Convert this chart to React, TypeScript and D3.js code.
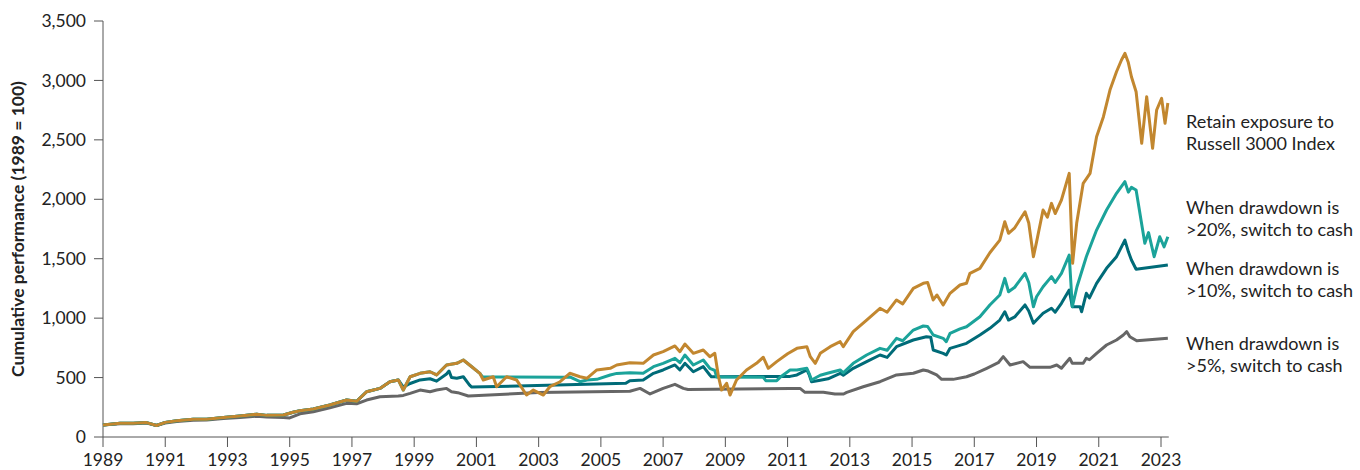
import React from 'react';
import * as d3 from 'd3';

// [year, index value]
const russell3000 = [
  [1989.0, 100], [1989.55, 115], [1989.97, 115], [1990.4, 121], [1990.72, 97], [1991.0, 123],
  [1991.37, 137], [1991.9, 149], [1992.33, 150], [1992.87, 165], [1993.4, 177], [1993.94, 191],
  [1994.26, 182], [1994.8, 185], [1995.11, 208], [1995.33, 221], [1995.76, 235], [1996.29, 269],
  [1996.83, 311], [1997.15, 300], [1997.47, 381], [1997.9, 409], [1998.22, 465], [1998.49, 480],
  [1998.65, 395], [1998.87, 507], [1999.19, 536], [1999.51, 549], [1999.72, 522], [2000.04, 606],
  [2000.37, 620], [2000.58, 648], [2000.85, 591], [2001.11, 536], [2001.22, 480], [2001.54, 507],
  [2001.65, 423], [2001.97, 507], [2002.29, 480], [2002.61, 353], [2002.83, 395], [2003.15, 353],
  [2003.36, 423], [2003.69, 465], [2004.0, 536], [2004.33, 507], [2004.55, 494], [2004.87, 564],
  [2005.3, 578], [2005.51, 606], [2005.93, 625], [2006.36, 620], [2006.69, 690], [2007.0, 718],
  [2007.38, 766], [2007.54, 718], [2007.7, 782], [2007.97, 704], [2008.29, 732], [2008.5, 676],
  [2008.66, 704], [2008.78, 507], [2008.88, 395], [2009.04, 452], [2009.15, 353], [2009.36, 480],
  [2009.68, 564], [2010.0, 620], [2010.22, 671], [2010.38, 578], [2010.65, 634], [2011.0, 700],
  [2011.3, 746], [2011.62, 760], [2011.73, 676], [2011.89, 620], [2012.05, 704], [2012.37, 760],
  [2012.69, 802], [2012.79, 760], [2013.11, 886], [2013.54, 984], [2013.97, 1083], [2014.2, 1050],
  [2014.5, 1153], [2014.7, 1120], [2015.04, 1251], [2015.36, 1293], [2015.5, 1300], [2015.68, 1153],
  [2015.8, 1195], [2016.0, 1110], [2016.22, 1209], [2016.54, 1279], [2016.75, 1293], [2016.86, 1377],
  [2017.18, 1419], [2017.5, 1550], [2017.82, 1657], [2017.98, 1811], [2018.1, 1714], [2018.3, 1760],
  [2018.63, 1895], [2018.75, 1800], [2018.9, 1517], [2019.0, 1640], [2019.21, 1910], [2019.35, 1850],
  [2019.48, 1966], [2019.6, 1880], [2019.8, 1994], [2020.05, 2218], [2020.16, 1461], [2020.29, 1798],
  [2020.5, 2134], [2020.72, 2218], [2020.93, 2526], [2021.15, 2695], [2021.36, 2919], [2021.57, 3073],
  [2021.73, 3172], [2021.84, 3228], [2021.95, 3150], [2022.05, 3031], [2022.2, 2905], [2022.38, 2471],
  [2022.54, 2863], [2022.73, 2429], [2022.86, 2751], [2023.02, 2849], [2023.13, 2639], [2023.22, 2810],
];

const drawdown20 = [
  [1989.0, 100], [1989.55, 115], [1989.97, 115], [1990.4, 121], [1990.72, 97], [1991.0, 123],
  [1991.37, 137], [1991.9, 149], [1992.33, 150], [1992.87, 165], [1993.4, 177], [1993.94, 191],
  [1994.26, 182], [1994.8, 185], [1995.11, 208], [1995.33, 221], [1995.76, 235], [1996.29, 269],
  [1996.83, 311], [1997.15, 300], [1997.47, 381], [1997.9, 409], [1998.22, 465], [1998.49, 480],
  [1998.65, 395], [1998.87, 507], [1999.19, 536], [1999.51, 549], [1999.72, 522], [2000.04, 606],
  [2000.37, 620], [2000.58, 648], [2000.85, 591], [2001.11, 536], [2001.2, 505], [2003.9, 502],
  [2004.0, 505], [2004.33, 465], [2004.55, 480], [2004.87, 485], [2005.3, 522], [2005.51, 535],
  [2005.93, 541], [2006.36, 536], [2006.69, 592], [2007.0, 620], [2007.38, 662], [2007.54, 625],
  [2007.7, 690], [2007.97, 606], [2008.29, 648], [2008.5, 578], [2008.66, 560], [2008.72, 505],
  [2010.22, 502], [2010.3, 474], [2010.65, 474], [2010.75, 500], [2011.08, 564], [2011.3, 564],
  [2011.62, 578], [2011.7, 530], [2011.77, 480], [2012.05, 520], [2012.28, 536], [2012.69, 564],
  [2012.79, 540], [2013.11, 620], [2013.54, 690], [2013.97, 746], [2014.2, 730], [2014.5, 830],
  [2014.7, 810], [2015.04, 900], [2015.36, 934], [2015.5, 930], [2015.68, 858], [2016.0, 830],
  [2016.1, 802], [2016.22, 872], [2016.54, 910], [2016.75, 928], [2017.18, 1012], [2017.5, 1110],
  [2017.82, 1195], [2017.98, 1335], [2018.1, 1222], [2018.3, 1260], [2018.63, 1377], [2018.75, 1300],
  [2018.9, 1096], [2019.0, 1180], [2019.21, 1264], [2019.48, 1349], [2019.6, 1300], [2019.8, 1377],
  [2020.05, 1531], [2020.15, 1096], [2020.3, 1264], [2020.6, 1517], [2020.93, 1741], [2021.25, 1910],
  [2021.57, 2050], [2021.84, 2148], [2021.95, 2060], [2022.05, 2100], [2022.2, 2078], [2022.48, 1630],
  [2022.6, 1720], [2022.78, 1517], [2022.96, 1685], [2023.1, 1600], [2023.22, 1685],
];

const drawdown10 = [
  [1989.0, 100], [1989.55, 115], [1989.97, 115], [1990.4, 121], [1990.72, 97], [1991.0, 123],
  [1991.37, 137], [1991.9, 149], [1992.33, 150], [1992.87, 165], [1993.4, 177], [1993.94, 191],
  [1994.26, 182], [1994.8, 185], [1995.11, 208], [1995.33, 221], [1995.76, 235], [1996.29, 269],
  [1996.83, 311], [1997.15, 300], [1997.47, 381], [1997.9, 409], [1998.22, 465], [1998.49, 480],
  [1998.65, 420], [1998.87, 450], [1999.19, 480], [1999.51, 490], [1999.72, 470], [2000.04, 530],
  [2000.12, 555], [2000.2, 500], [2000.37, 494], [2000.58, 507], [2000.78, 437], [2000.85, 420],
  [2005.8, 452], [2005.93, 474], [2006.36, 480], [2006.69, 536], [2007.0, 564], [2007.38, 606],
  [2007.54, 564], [2007.7, 620], [2007.97, 549], [2008.29, 592], [2008.5, 522], [2008.55, 507],
  [2011.08, 510], [2011.3, 522], [2011.62, 564], [2011.7, 520], [2011.77, 465], [2012.05, 478],
  [2012.3, 490], [2012.69, 536], [2012.79, 520], [2013.11, 578], [2013.54, 634], [2013.97, 690],
  [2014.2, 670], [2014.5, 760], [2015.04, 816], [2015.46, 844], [2015.6, 840], [2015.68, 732],
  [2016.0, 704], [2016.1, 690], [2016.22, 746], [2016.75, 788], [2017.18, 858], [2017.5, 914],
  [2017.82, 984], [2017.98, 1054], [2018.1, 984], [2018.3, 1010], [2018.63, 1111], [2018.75, 1060],
  [2018.9, 957], [2019.21, 1041], [2019.48, 1083], [2019.6, 1050], [2019.8, 1125], [2020.05, 1237],
  [2020.15, 1096], [2020.4, 1096], [2020.45, 1054], [2020.6, 1209], [2020.7, 1170], [2020.93, 1293],
  [2021.25, 1419], [2021.57, 1517], [2021.84, 1657], [2021.95, 1560], [2022.05, 1489], [2022.2, 1411],
  [2023.22, 1447],
];

const drawdown5 = [
  [1989.0, 100], [1989.55, 112], [1989.97, 112], [1990.4, 117], [1990.72, 97], [1991.0, 118],
  [1991.37, 130], [1991.9, 140], [1992.33, 142], [1992.87, 155], [1993.4, 165], [1993.94, 175],
  [1994.26, 168], [1994.8, 165], [1995.0, 160], [1995.33, 195], [1995.76, 213], [1996.29, 245],
  [1996.83, 283], [1997.15, 280], [1997.47, 311], [1997.9, 339], [1998.49, 345], [1998.65, 350],
  [1998.87, 367], [1999.19, 395], [1999.51, 381], [1999.72, 395], [2000.04, 409], [2000.2, 381],
  [2000.4, 373], [2000.74, 345], [2003.0, 375], [2005.93, 385], [2006.26, 409], [2006.58, 362],
  [2007.0, 409], [2007.38, 443], [2007.65, 409], [2007.8, 400], [2011.08, 409], [2011.4, 409],
  [2011.56, 376], [2012.15, 376], [2012.52, 362], [2012.8, 362], [2012.9, 376], [2013.43, 423],
  [2013.97, 465], [2014.5, 522], [2015.04, 536], [2015.36, 564], [2015.52, 555], [2015.79, 522],
  [2015.95, 485], [2016.32, 485], [2016.75, 507], [2017.0, 530], [2017.4, 578], [2017.77, 625],
  [2017.93, 676], [2018.15, 606], [2018.57, 634], [2018.79, 586], [2019.43, 586], [2019.65, 606],
  [2019.8, 578], [2020.07, 662], [2020.15, 620], [2020.5, 620], [2020.6, 662], [2020.7, 650],
  [2020.93, 704], [2021.25, 774], [2021.57, 816], [2021.79, 858], [2021.9, 886], [2022.0, 844],
  [2022.22, 810], [2023.22, 830],
];

const yTicks = [0, 500, 1000, 1500, 2000, 2500, 3000, 3500];
const xTicks = [1989, 1991, 1993, 1995, 1997, 1999, 2001, 2003, 2005, 2007, 2009, 2011, 2013, 2015, 2017, 2019, 2021, 2023];

const series = [
  { name: 'dd5', data: drawdown5, color: '#666666', label: ['When drawdown is', '>5%, switch to cash'], labelY: 350 },
  { name: 'dd10', data: drawdown10, color: '#006b78', label: ['When drawdown is', '>10%, switch to cash'], labelY: 275 },
  { name: 'dd20', data: drawdown20, color: '#1ba39a', label: ['When drawdown is', '>20%, switch to cash'], labelY: 214 },
  { name: 'r3000', data: russell3000, color: '#c2872f', label: ['Retain exposure to', 'Russell 3000 Index'], labelY: 128 },
];

const FONT = 'Lato, "Noto Sans", sans-serif';

export default function App() {
  const width = 1360;
  const height = 470;

  const x = d3.scaleLinear().domain([1989, 2023]).range([103, 1161]);
  const y = d3.scaleLinear().domain([0, 3500]).range([437, 21]);

  const line = d3.line<number[]>()
    .x(d => x(d[0]))
    .y(d => y(d[1]));

  const axisColor = '#555';
  const xEnd = x(2023.25);

  return (
    <svg width={width} height={height} style={{ position: 'absolute', left: 0, top: 0, background: '#fff' }}>
      {/* y axis */}
      <line x1={x(1989)} x2={x(1989)} y1={y(3500)} y2={y(0)} stroke={axisColor} strokeWidth={1} />
      {yTicks.map(t => (
        <g key={t} transform={`translate(0,${y(t)})`}>
          <line x1={x(1989) - 9} x2={x(1989)} stroke={axisColor} strokeWidth={1} />
          <text x={86} dy="0.35em" textAnchor="end" fontFamily={FONT} fontSize={17.5} fill="#222">
            {d3.format(',')(t)}
          </text>
        </g>
      ))}
      <text
        transform={`translate(24,${(y(0) + y(3500)) / 2}) rotate(-90)`}
        textAnchor="middle"
        fontFamily={FONT}
        fontWeight="bold"
        fontSize={17.5}
        fill="#222"
      >
        Cumulative performance (1989 = 100)
      </text>

      {/* x axis */}
      <line x1={x(1989)} x2={xEnd} y1={y(0)} y2={y(0)} stroke={axisColor} strokeWidth={1} />
      {xTicks.map(t => (
        <g key={t} transform={`translate(${x(t)},${y(0)})`}>
          <line y1={0} y2={10} stroke={axisColor} strokeWidth={1} />
          <text y={29} textAnchor="middle" fontFamily={FONT} fontSize={17.5} fill="#222">
            {t}
          </text>
        </g>
      ))}

      {/* lines */}
      {series.map(s => (
        <path key={s.name} d={line(s.data) || ''} fill="none" stroke={s.color} strokeWidth={3} strokeLinejoin="round" />
      ))}

      {/* labels */}
      {series.map(s => (
        <text key={s.name + '-lbl'} x={1186} y={s.labelY} fontFamily={FONT} fontSize={18} fill="#222">
          <tspan x={1186}>{s.label[0]}</tspan>
          <tspan x={1186} dy={22}>{s.label[1]}</tspan>
        </text>
      ))}
    </svg>
  );
}
